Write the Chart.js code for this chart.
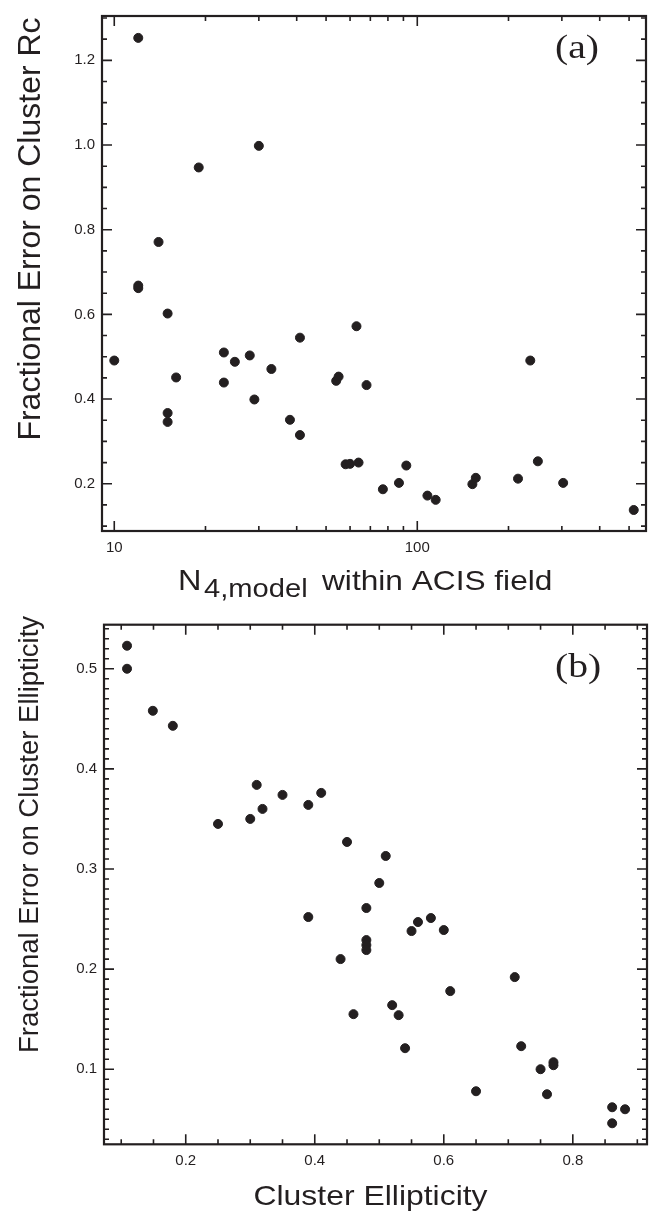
<!DOCTYPE html>
<html>
<head>
<meta charset="utf-8">
<script src="https://cdn.jsdelivr.net/npm/chart.js@4"></script>
<style>
  html, body { margin: 0; padding: 0; background: #fff; }
  #wrap { position: relative; width: 654px; height: 1213px; }
  .panel { position: absolute; left: 0; width: 654px; }
</style>
</head>
<body>
<div id="wrap">
  <div class="panel" style="top:0;height:606px"><canvas id="chartA"></canvas></div>
  <div class="panel" style="top:606px;height:607px"><canvas id="chartB"></canvas></div>
</div>
<script>
const ink = "#231f20";

// panel (a): fractional error on Rc vs N4,model
const nModel = [12, 30, 19, 14, 12, 12, 15, 10, 16, 15,
                15, 23, 23, 25, 28, 29, 33, 38, 41, 41,
                54, 55, 63, 68, 58, 60, 64, 77, 87, 92,
                108, 115, 152, 156, 215, 236, 250, 303, 518];
const rcErr = [1.253, 0.998, 0.947, 0.771, 0.668, 0.662, 0.602, 0.491, 0.451, 0.367,
               0.346, 0.510, 0.439, 0.488, 0.503, 0.399, 0.471, 0.351, 0.545, 0.315,
               0.443, 0.453, 0.572, 0.433, 0.246, 0.247, 0.250, 0.187, 0.202, 0.243,
               0.172, 0.162, 0.199, 0.214, 0.212, 0.491, 0.253, 0.202, 0.138];

// panel (b): fractional error on ellipticity vs ellipticity
const ellip = [0.109, 0.109, 0.149, 0.180, 0.250, 0.300, 0.310, 0.319, 0.350, 0.390,
               0.410, 0.450, 0.390, 0.480, 0.510, 0.500, 0.550, 0.560, 0.580, 0.600,
               0.480, 0.480, 0.480, 0.440, 0.460, 0.710, 0.610, 0.520, 0.530, 0.540,
               0.720, 0.750, 0.770, 0.770, 0.650, 0.760, 0.861, 0.881, 0.861];
const ellipErr = [0.523, 0.500, 0.458, 0.443, 0.345, 0.350, 0.384, 0.360, 0.374, 0.364,
                  0.376, 0.327, 0.252, 0.261, 0.313, 0.286, 0.238, 0.247, 0.251, 0.239,
                  0.229, 0.224, 0.219, 0.210, 0.155, 0.192, 0.178, 0.164, 0.154, 0.121,
                  0.123, 0.100, 0.107, 0.104, 0.078, 0.075, 0.062, 0.060, 0.046];

// tick labels / tick marks
const xTicksA = [10, 100];
const xMinorA = [20, 30, 40, 50, 60, 70, 80, 90, 200, 300, 400, 500];
const yTicksA = [0.2, 0.4, 0.6, 0.8, 1.0, 1.2];
const xTicksB = [0.2, 0.4, 0.6, 0.8];
const yTicksB = [0.1, 0.2, 0.3, 0.4, 0.5];

const steps = (a, b, s) => { const out = []; for (let v = a; v <= b + 1e-9; v += s) out.push(Math.round(v * 1000) / 1000); return out; };
const yMinorA = steps(0.1, 1.3, 0.05);
const xMinorB = steps(0.1, 0.9, 0.05);
const yMinorB = steps(0.03, 0.54, 0.01);

// inward tick marks on all four sides + box
const frame = {
  id: "frame",
  afterDatasetsDraw(chart, args, o) {
    const { ctx, chartArea: a, scales: { x, y } } = chart;
    ctx.save();
    ctx.strokeStyle = ink;
    ctx.lineWidth = 1.6;
    ctx.beginPath();
    const xt = (vals, len) => vals.forEach(v => {
      const p = x.getPixelForValue(v);
      if (p < a.left + 1 || p > a.right - 1) return;
      ctx.moveTo(p, a.bottom); ctx.lineTo(p, a.bottom - len);
      ctx.moveTo(p, a.top); ctx.lineTo(p, a.top + len);
    });
    const yt = (vals, len) => vals.forEach(v => {
      const p = y.getPixelForValue(v);
      if (p < a.top + 1 || p > a.bottom - 1) return;
      ctx.moveTo(a.left, p); ctx.lineTo(a.left + len, p);
      ctx.moveTo(a.right, p); ctx.lineTo(a.right - len, p);
    });
    xt(o.xMinor, 5); xt(o.xMajor, 10);
    yt(o.yMinor, 5); yt(o.yMajor, 10);
    ctx.stroke();
    ctx.lineWidth = 2.2;
    ctx.strokeRect(a.left, a.top, a.right - a.left, a.bottom - a.top);
    ctx.restore();
  }
};

function put(ctx, text, x, y, font, sx, rot, align) {
  ctx.save();
  ctx.translate(x, y);
  if (rot) ctx.rotate(rot);
  ctx.scale(sx || 1, 1);
  ctx.font = font;
  ctx.fillStyle = ink;
  ctx.textAlign = align || "left";
  ctx.textBaseline = rot ? "middle" : "alphabetic";
  ctx.fillText(text, 0, 0);
  ctx.restore();
}

const titles = {
  id: "titles",
  afterDraw(chart, args, o) {
    const ctx = chart.ctx;
    o.items.forEach(t => put(ctx, t.text, t.x, t.y, t.font, t.sx, t.rot, t.align));
  }
};

const sans = "'Liberation Sans', Arial, Helvetica, sans-serif";
const serif = "'Liberation Serif', 'Times New Roman', serif";

function makeChart(id, xs, ys, xScale, yScale, frameOpts, titleItems, pad) {
  return new Chart(document.getElementById(id), {
    type: "scatter",
    data: { datasets: [{ data: xs.map((v, i) => ({ x: v, y: ys[i] })), backgroundColor: ink, borderColor: ink, pointRadius: 4.5, pointHoverRadius: 4.5 }] },
    options: {
      responsive: true, maintainAspectRatio: false, animation: false,
      layout: { padding: pad },
      plugins: { legend: { display: false }, tooltip: { enabled: false }, frame: frameOpts, titles: { items: titleItems } },
      scales: { x: xScale, y: yScale }
    },
    plugins: [frame, titles]
  });
}

const tickFont = { family: sans, size: 15 };
const axisBase = { grid: { display: false, drawTicks: false }, border: { display: false } };

makeChart("chartA", nModel, rcErr,
  Object.assign({}, axisBase, {
    type: "logarithmic", min: 9.11, max: 568.6,
    afterBuildTicks: s => { s.ticks = xTicksA.map(v => ({ value: v })); },
    afterFit: s => { s.height = 75; },
    ticks: { color: ink, font: tickFont, padding: 8, autoSkip: false, maxRotation: 0, callback: v => String(v) }
  }),
  Object.assign({}, axisBase, {
    type: "linear", min: 0.0884, max: 1.3047,
    afterBuildTicks: s => { s.ticks = yTicksA.map(v => ({ value: v })); },
    afterFit: s => { s.width = 102; },
    ticks: { color: ink, font: tickFont, padding: 7, autoSkip: false, callback: v => v.toFixed(1) }
  }),
  { xMajor: xTicksA, xMinor: xMinorA, yMajor: yTicksA, yMinor: yMinorA },
  [
    { text: "Fractional Error on Cluster Rc", x: 31, y: 229, font: "32px " + sans, rot: -Math.PI / 2, align: "center" },
    { text: "N", x: 178, y: 590, font: "29px " + sans, sx: 1.12 },
    { text: "4,model", x: 204, y: 597, font: "26px " + sans, sx: 1.12 },
    { text: "within ACIS field", x: 322, y: 590, font: "28px " + sans, sx: 1.13 },
    { text: "(a)", x: 555, y: 58, font: "33px " + serif, sx: 1.2 }
  ],
  { top: 8, right: 8, left: 0, bottom: 0 }
);

makeChart("chartB", ellip, ellipErr,
  Object.assign({}, axisBase, {
    type: "linear", min: 0.0733, max: 0.915,
    afterBuildTicks: s => { s.ticks = xTicksB.map(v => ({ value: v })); },
    afterFit: s => { s.height = 68.7; },
    ticks: { color: ink, font: tickFont, padding: 8, autoSkip: false, maxRotation: 0, callback: v => v.toFixed(1) }
  }),
  Object.assign({}, axisBase, {
    type: "linear", min: 0.025, max: 0.544,
    afterBuildTicks: s => { s.ticks = yTicksB.map(v => ({ value: v })); },
    afterFit: s => { s.width = 104; },
    ticks: { color: ink, font: tickFont, padding: 7, autoSkip: false, callback: v => v.toFixed(1) }
  }),
  { xMajor: xTicksB, xMinor: xMinorB, yMajor: yTicksB, yMinor: yMinorB },
  [
    { text: "Fractional Error on Cluster Ellipticity", x: 30, y: 228.5, font: "27.5px " + sans, rot: -Math.PI / 2, align: "center" },
    { text: "Cluster Ellipticity", x: 370.5, y: 599, font: "28.5px " + sans, sx: 1.12, align: "center" },
    { text: "(b)", x: 555, y: 71, font: "33px " + serif, sx: 1.2 }
  ],
  { top: 18.7, right: 7, left: 0, bottom: 0 }
);
</script>
</body>
</html>
